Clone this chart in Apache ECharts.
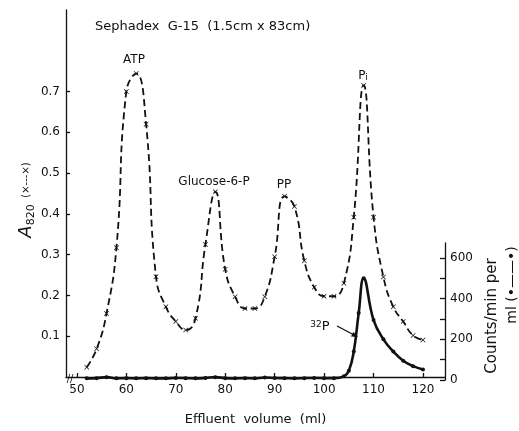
<!DOCTYPE html>
<html><head><meta charset="utf-8">
<script src="https://cdn.jsdelivr.net/npm/echarts@6/dist/echarts.min.js"></script>
<style>html,body{margin:0;padding:0;background:#fff}#c{width:519px;height:431px}</style>
</head><body><div id="c"></div>
<script>
// ---- data ----
const volume = [52,54,56,58,60,62,64,66,68,70,72,74,76,78,80,82,84,86,88,90,92,94,96,98,100,102,104,106,108,110,112,114,116,118,120];
const a820 = [0.024,0.069,0.156,0.317,0.700,0.744,0.620,0.246,0.172,0.136,0.115,0.144,0.325,0.454,0.264,0.197,0.168,0.168,0.197,0.295,0.443,0.418,0.285,0.220,0.198,0.198,0.230,0.392,0.715,0.392,0.245,0.172,0.136,0.102,0.091];
const p32Volume = [52,54,56,58,60,62,64,66,68,70,72,74,76,78,80,82,84,86,88,90,92,94,96,98,100,102,104,105,106,107,108,110,112,114,116,118,120];
const p32Counts = [8,9,14,8,9,8,9,8,8,10,9,8,10,14,9,8,9,8,12,10,9,8,9,10,9,9,18,45,140,330,500,295,200,140,95,68,52];
const xTicks = [50,60,70,80,90,100,110,120];
const leftTicks = [0.1,0.2,0.3,0.4,0.5,0.6,0.7];
const rightTicks = [0,100,200,300,400,500,600];
const rightLabels = [0,200,400,600];

const FONT = '"DejaVu Sans", sans-serif';
const INK = '#111';
const crossPath = 'path://M1,0L5,4L9,0L10,1L6,5L10,9L9,10L5,6L1,10L0,9L4,5L0,1Z';

const chart = echarts.init(document.getElementById('c'), null, {renderer: 'canvas'});
const axisLineStyle = {color: INK, width: 1.3};
chart.setOption({
  animation: false,
  backgroundColor: '#fff',
  grid: [
    {left: 66, right: 74, top: 10, bottom: 51},
    {left: 66, right: 74, top: 243, bottom: 51}
  ],
  xAxis: [
    {type: 'value', gridIndex: 0, min: 47.8, max: 124.45,
     axisLine: {show: true, lineStyle: axisLineStyle},
     axisTick: {show: true, inside: true, length: 4, lineStyle: axisLineStyle, customValues: xTicks},
     axisLabel: {color: INK, fontFamily: FONT, fontSize: 12, margin: 7, customValues: xTicks},
     splitLine: {show: false},
     name: 'Effluent  volume  (ml)', nameLocation: 'middle', nameGap: 36,
     nameTextStyle: {color: INK, fontFamily: FONT, fontSize: 13}},
    {type: 'value', gridIndex: 1, min: 47.8, max: 124.45, show: false}
  ],
  yAxis: [
    {type: 'value', gridIndex: 0, min: 0, max: 0.9,
     axisLine: {show: true, lineStyle: axisLineStyle},
     axisTick: {show: true, inside: true, length: 4, lineStyle: axisLineStyle, customValues: leftTicks},
     axisLabel: {color: INK, fontFamily: FONT, fontSize: 12, margin: 6, customValues: leftTicks,
                 formatter: v => v.toFixed(1)},
     splitLine: {show: false}},
    {type: 'value', gridIndex: 1, min: 0, max: 674, position: 'right',
     axisLine: {show: true, lineStyle: axisLineStyle},
     axisTick: {show: true, inside: true, length: 5, lineStyle: axisLineStyle, customValues: rightTicks},
     axisLabel: {color: INK, fontFamily: FONT, fontSize: 12, margin: 5, customValues: rightLabels},
     splitLine: {show: false}}
  ],
  series: [
    {type: 'line', xAxisIndex: 0, yAxisIndex: 0,
     data: volume.map((v, i) => [v, a820[i]]),
     smooth: 0.5,
     symbol: crossPath, symbolSize: 5,
     itemStyle: {color: INK},
     lineStyle: {color: INK, width: 1.8, type: [7, 4]}},
    {type: 'line', xAxisIndex: 1, yAxisIndex: 1,
     data: p32Volume.map((v, i) => [v, p32Counts[i]]),
     smooth: 0.45,
     symbol: 'circle', symbolSize: 4,
     itemStyle: {color: INK},
     lineStyle: {color: INK, width: 2.6}}
  ],
  graphic: [
    {type: 'text', x: 95, y: 27, style: {text: 'Sephadex  G-15  (1.5cm x 83cm)', font: '13px ' + FONT, fill: INK, align: 'left', verticalAlign: 'middle'}},
    {type: 'text', x: 134, y: 60, style: {text: 'ATP', font: '12px ' + FONT, fill: INK, align: 'center', verticalAlign: 'middle'}},
    {type: 'text', x: 214, y: 182, style: {text: 'Glucose-6-P', font: '12px ' + FONT, fill: INK, align: 'center', verticalAlign: 'middle'}},
    {type: 'text', x: 284, y: 185, style: {text: 'PP', font: '12px ' + FONT, fill: INK, align: 'center', verticalAlign: 'middle'}},
    {type: 'text', x: 363, y: 76, style: {text: 'P{s|i}', font: '12px ' + FONT, fill: INK, align: 'center', verticalAlign: 'middle',
       rich: {s: {fontSize: 9, fontFamily: FONT, fill: INK, verticalAlign: 'bottom'}}}},
    {type: 'text', x: 320, y: 327, style: {text: '{s|32}P', font: '13px ' + FONT, fill: INK, align: 'center', verticalAlign: 'middle',
       rich: {s: {fontSize: 9, fontFamily: FONT, fill: INK, verticalAlign: 'top'}}}},
    {type: 'line', shape: {x1: 337, y1: 326, x2: 356, y2: 336}, style: {stroke: INK, lineWidth: 1.3}},
    {type: 'polygon', shape: {points: [[358, 337], [351, 336.5], [353.5, 332]]}, style: {fill: INK}},
    {type: 'text', x: 70, y: 379, style: {text: '//', font: '10px ' + FONT, fill: INK, align: 'center', verticalAlign: 'middle'}},
    {type: 'text', x: 26, y: 200, rotation: Math.PI / 2,
     style: {text: '{a|A}{s|820}  {p|(×---×)}', align: 'center', verticalAlign: 'middle', fill: INK,
       rich: {a: {fontSize: 18, fontStyle: 'italic', fontFamily: FONT, fill: INK, lineHeight: 22},
              s: {fontSize: 11, fontFamily: FONT, fill: INK, verticalAlign: 'bottom', lineHeight: 10},
              p: {fontSize: 10, fontFamily: FONT, fill: INK, lineHeight: 22}}}},
    {type: 'text', x: 492, y: 316, rotation: Math.PI / 2,
     style: {text: 'Counts/min per', font: '15px ' + FONT, fill: INK, align: 'center', verticalAlign: 'middle'}},
    {type: 'text', x: 512, y: 285, rotation: Math.PI / 2,
     style: {text: 'ml (•——•)', font: '14px ' + FONT, fill: INK, align: 'center', verticalAlign: 'middle'}}
  ]
});
</script></body></html>
